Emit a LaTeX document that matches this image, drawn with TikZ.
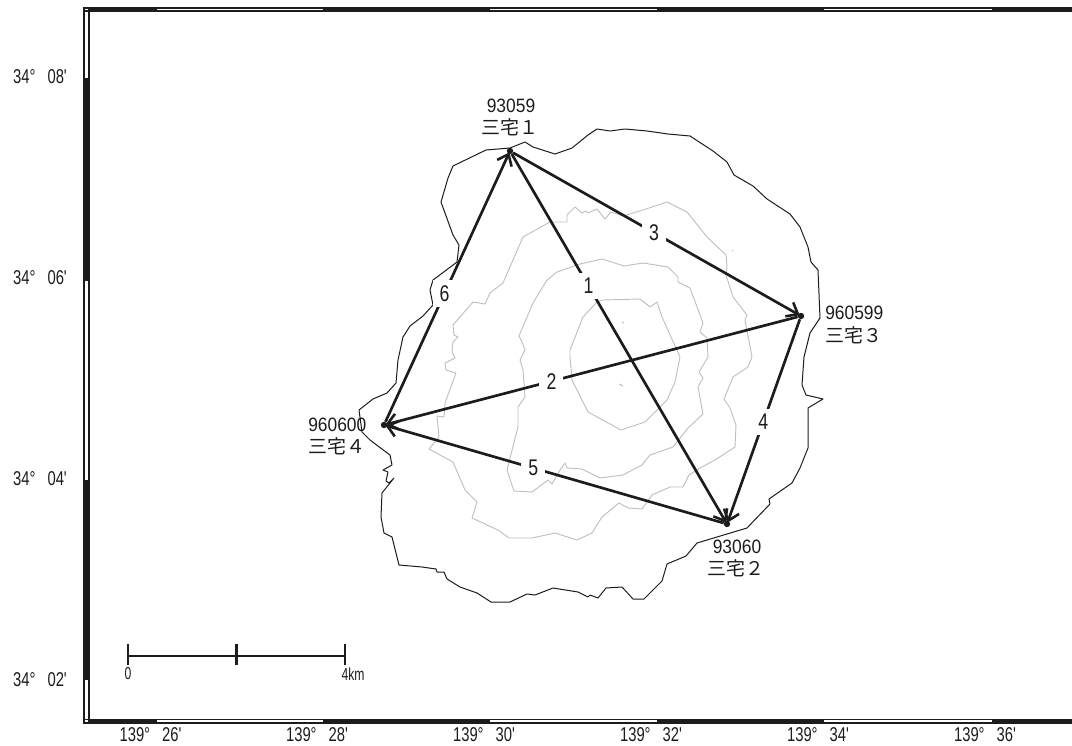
\documentclass[tikz,border=0pt]{standalone}
\usepackage{fontspec}
\setmainfont{Liberation Sans}
\newfontfamily\axisf[FakeStretch=0.74]{Liberation Sans}
\newfontfamily\statf[FakeStretch=0.9]{Liberation Sans}
\newfontfamily\edgef[FakeStretch=0.78]{Liberation Sans}
\newfontfamily\scalef[FakeStretch=0.7]{Liberation Sans}
\newfontfamily\cjk{Noto Sans CJK JP}
\usetikzlibrary{arrows.meta}
\definecolor{ink}{gray}{0.11}
\definecolor{contour}{gray}{0.75}
\tikzset{
  coast/.style={draw=ink,line width=0.75pt,line join=round},
  cont/.style={draw=contour,line width=0.7pt,line join=round},
  axlab/.style={inner sep=0pt,text=ink,font=\axisf\fontsize{15}{16}\selectfont},
  sclab/.style={inner sep=0pt,text=ink,font=\scalef\fontsize{13}{14}\selectfont},
  num/.style={inner sep=0pt,text=ink,font=\statf\fontsize{14.5}{15}\selectfont},
  kan/.style={inner sep=0pt,text=ink,font=\cjk\fontsize{14.2}{15}\selectfont},
  edgelab/.style={fill=white,inner sep=0pt,minimum width=18pt,minimum height=20pt,text=ink,font=\edgef\fontsize{17}{18}\selectfont},
  sta/.style={circle,fill=ink,inner sep=0pt,minimum size=4.8pt},
  conn/.style={draw=ink,line width=2pt,shorten >=-1.5pt,-{Straight Barb[length=7.5pt,width=12pt,line width=1.9pt]}},
  scalebar/.style={draw=ink,line width=1.6pt},
  bar/.style={fill=ink,draw=none},
  gap/.style={fill=white,draw=none}
}
\newcommand{\dms}[2]{#1°\hspace{9pt}#2'}
\begin{document}
\begin{tikzpicture}[x=0.75pt,y=-0.75pt]
\useasboundingbox (0,0) rectangle (1072,746);
% frame
\fill[bar] (83,7.3) rectangle (1072,12.3);
\fill[bar] (83,719) rectangle (1072,724);
\fill[bar] (83,7.3) rectangle (90,724);
\foreach \a/\b in {157/323,490/657,824/992}{
  \fill[gap] (\a,8.8) rectangle (\b,10.2);
  \fill[gap] (\a,720) rectangle (\b,722);
}
\fill[gap] (85.3,8.8) rectangle (87.5,10.2);
\fill[gap] (85.3,720) rectangle (87.5,722);
\foreach \a/\b in {12.3/78,281/480,680/719}{
  \fill[gap] (85.3,\a) rectangle (87.5,\b);
}
% contours
\draw[cont] (567,222)--(567,215)--(575,207)--(582,213)--(586,211)--(588,213)--(597,209)--(605,219)--(611,212)--(623,216)--(640,211)--(667,202)--(687,212)--(707,237)--(726,255)--(727,266)--(726,275)--(733,297)--(747,315)--(745,320)--(752,357)--(748,367)--(733,377)--(724,399)--(730,408)--(736,425)--(735,447)--(715,460)--(700,468)--(689,475)--(683,487)--(670,487)--(652,495)--(642,509)--(628,508)--(619,503)--(602,517)--(592,533)--(577,540)--(555,533)--(532,538)--(509,538)--(498,530)--(472,518)--(477,502)--(465,490)--(453,462)--(429,449)--(439,437)--(437,416)--(444,417)--(445,403)--(456,373)--(446,370)--(445,363)--(455,358)--(452,352)--(453,342)--(458,337)--(454,335)--(453,325)--(473,302)--(485,304)--(490,293)--(503,283)--(523,237)--(550,222)--cycle;
\draw[cont] (602,259)--(624,266)--(643,263)--(668,267)--(678,277)--(678,282)--(690,288)--(703,323)--(700,332)--(707,338)--(708,357)--(699,372)--(703,378)--(698,387)--(703,414)--(688,428)--(673,447)--(650,455)--(642,465)--(623,475)--(600,478)--(582,469)--(567,468)--(565,463)--(560,470)--(552,484)--(548,480)--(532,492)--(514,491)--(507,470)--(518,427)--(518,407)--(525,397)--(523,370)--(520,360)--(525,350)--(522,342)--(519,336)--(533,303)--(547,280)--(557,272)--(580,264)--cycle;
\draw[cont] (603,300)--(640,299)--(650,307)--(657,302)--(662,317)--(680,357)--(675,382)--(667,400)--(645,422)--(621,430)--(588,412)--(572,380)--(570,357)--(570,350)--(583,317)--(597,302)--cycle;
\draw[cont] (622,322)--(624,323);
\draw[cont] (732,250)--(733,251);
\draw[cont] (619,384)--(623,386);
% coast
\draw[coast] (486,150)--(510,148)--(525,142)--(533,147)--(555,154)--(572,148)--(588,135)--(597,129)--(610,131)--(625,129)--(647,131)--(668,134)--(690,136)--(713,151)--(727,162)--(734,175)--(753,186)--(767,199)--(790,214)--(800,227)--(808,247)--(811,262)--(818,270)--(820,318)--(810,333)--(804,357)--(802,385)--(806,395)--(823,399)--(808,408)--(808,448)--(800,468)--(792,483)--(769,499)--(770,504)--(747,528)--(697,543)--(686,556)--(667,564)--(662,581)--(644,599)--(633,599)--(622,587)--(606,588)--(598,598)--(590,595)--(588,597)--(578,592)--(553,588)--(535,595)--(527,594)--(510,602)--(491,602)--(477,593)--(460,587)--(447,579)--(444,572)--(437,572)--(436,569)--(422,567)--(399,565)--(392,537)--(384,533)--(381,517)--(382,493)--(394,478)--(389,483)--(386,481)--(388,472)--(383,470)--(392,465)--(390,455)--(370,440)--(362,432)--(359,410)--(373,399)--(387,393)--(396,383)--(398,360)--(403,337)--(410,326)--(423,316)--(433,305)--(430,290)--(433,280)--(457,262)--(459,245)--(453,235)--(441,202)--(448,178)--(453,166)--cycle;
% stations
\node[sta] (s1) at (510,151) {};
\node[sta] (s2) at (727,524) {};
\node[sta] (s3) at (801,316) {};
\node[sta] (s4) at (384,425) {};
% connectors
\draw[conn] (s1) -- node[edgelab,pos=.36] (l1) {1} (s2);
\draw[conn] (s3) -- node[edgelab,pos=.6] (l2) {2} (s4);
\draw[conn] (s1) -- node[edgelab,pos=.495] (l3) {3} (s3);
\draw[conn] (s3) -- node[edgelab,pos=.51] (l4) {4} (s2);
\draw[conn] (s2) -- node[edgelab,pos=.566] (l5) {5} (s4);
\draw[conn] (s4) -- node[edgelab,pos=.48] (l6) {6} (s1);
% station labels
\node[num] (n1) at (511,106) {93059};
\node[kan] (k1) at (510,127) {三宅１};
\node[num,anchor=west] (n3) at (825,313) {960599};
\node[kan,anchor=west] (k3) at (825,335) {三宅３};
\node[num,anchor=west] (n4) at (308,425) {960600};
\node[kan,anchor=west] (k4) at (308,446) {三宅４};
\node[num] (n2) at (737,547) {93060};
\node[kan] (k2) at (736,568) {三宅２};
% scale bar
\coordinate (b0) at (128,656);
\coordinate (b1) at (236.5,656);
\coordinate (b2) at (345,656);
\draw[scalebar] (b0) -- (b2);
\foreach \p in {b0,b1,b2}{
  \draw[scalebar] ([yshift=9pt]\p) -- ([yshift=-7pt]\p);
}
\node[sclab] (s0) at (128,674) {0};
\node[sclab] (s4k) at (353,674) {4km};
% axis labels
\node[axlab] (y8) at (40,77) {\dms{34}{08}};
\node[axlab] (y6) at (40,278) {\dms{34}{06}};
\node[axlab] (y4) at (40,479) {\dms{34}{04}};
\node[axlab] (y2) at (40,680) {\dms{34}{02}};
\node[axlab] (x26) at (150.5,735) {\dms{139}{26}};
\node[axlab] (x28) at (317,735) {\dms{139}{28}};
\node[axlab] (x30) at (484,735) {\dms{139}{30}};
\node[axlab] (x32) at (651,735) {\dms{139}{32}};
\node[axlab] (x34) at (818,735) {\dms{139}{34}};
\node[axlab] (x36) at (985,735) {\dms{139}{36}};
\end{tikzpicture}
\end{document}
